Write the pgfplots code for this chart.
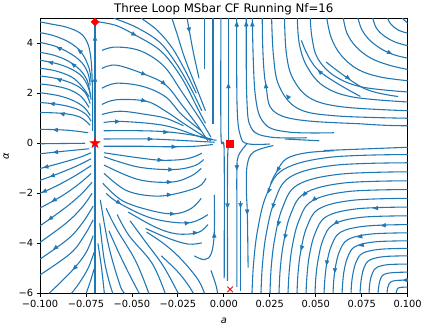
\documentclass[border=0pt]{standalone}
\usepackage{fontspec}
\setmainfont{DejaVu Sans}
\usepackage{pgfplots}
\pgfplotsset{compat=1.18}
\usetikzlibrary{arrows.meta}
\definecolor{c0}{HTML}{1F77B4}
\pgfdeclareplotmark{fstar}{%
 \pgfpathmoveto{\pgfpointpolar{90}{\pgfplotmarksize}}%
 \pgfpathlineto{\pgfpointpolar{126}{0.382\pgfplotmarksize}}%
 \pgfpathlineto{\pgfpointpolar{162}{\pgfplotmarksize}}%
 \pgfpathlineto{\pgfpointpolar{198}{0.382\pgfplotmarksize}}%
 \pgfpathlineto{\pgfpointpolar{234}{\pgfplotmarksize}}%
 \pgfpathlineto{\pgfpointpolar{270}{0.382\pgfplotmarksize}}%
 \pgfpathlineto{\pgfpointpolar{306}{\pgfplotmarksize}}%
 \pgfpathlineto{\pgfpointpolar{342}{0.382\pgfplotmarksize}}%
 \pgfpathlineto{\pgfpointpolar{18}{\pgfplotmarksize}}%
 \pgfpathlineto{\pgfpointpolar{54}{0.382\pgfplotmarksize}}%
 \pgfpathclose\pgfusepathqfillstroke}
\pgfplotsset{
 sl/.style={c0,line width=1.1pt,smooth,tension=0.6,mark=none},
 arw/.style={c0,line width=0.2pt,mark=none,-{Triangle[length=5pt,width=4.4pt]}},
}
\begin{document}
\begin{tikzpicture}
\begin{axis}[
 scale only axis, width=374pt, height=280pt,
 xmin=-0.1,xmax=0.1,ymin=-6,ymax=5,
 xtick={-0.1,-0.075,-0.05,-0.025,0,0.025,0.05,0.075,0.1},
 xticklabels={−0.100,−0.075,−0.050,−0.025,0.000,0.025,0.050,0.075,0.100},
 ytick={-6,-4,-2,0,2,4}, yticklabels={−6,−4,−2,0,2,4},
 scaled x ticks=false,
 tick align=outside, major tick length=3.5pt, xtick pos=left, ytick pos=left,
 tick style={black,line width=0.8pt},
 axis line style={line width=0.8pt},
 tick label style={font=\fontsize{10}{12}\selectfont},
 title={Three Loop MSbar CF Running Nf=16},
 title style={font=\fontsize{12}{14}\selectfont, yshift=-6pt},
 xlabel={\textit{a}}, ylabel={\textit{α}},
 label style={font=\fontsize{10}{12}\selectfont},
 xlabel style={yshift=-4pt}, ylabel style={yshift=3pt},
]
% separatrix
\addplot[sl] coordinates {(-0.0701,-6) (-0.0701,0) (-0.0701,4.85)};
% upper left
\addplot[sl] coordinates {(-0.0714,0.5) (-0.0714,1.7) (-0.0717,2.7) (-0.0725,3.5) (-0.0743,4.03) (-0.0781,4.4) (-0.0856,4.64) (-0.0936,4.76) (-0.1,4.85)};
\addplot[sl] coordinates {(-0.0722,2.45) (-0.0733,3.0) (-0.0775,3.63) (-0.084,4.03) (-0.0925,4.30) (-0.1,4.42)};
\addplot[sl] coordinates {(-0.0727,2.3) (-0.0738,2.77) (-0.077,3.2) (-0.0829,3.56) (-0.0914,3.87) (-0.1,4.03)};
\addplot[sl] coordinates {(-0.0727,1.97) (-0.0743,2.5) (-0.0781,2.92) (-0.0845,3.28) (-0.0925,3.52) (-0.1,3.63)};
\addplot[sl] coordinates {(-0.0722,1.74) (-0.0733,2.14) (-0.0765,2.61) (-0.0818,2.92) (-0.0898,3.16) (-0.1,3.32)};
\addplot[sl] coordinates {(-0.0733,1.86) (-0.0775,2.3) (-0.0829,2.65) (-0.0914,2.89) (-0.1,3.00)};
\addplot[sl] coordinates {(-0.0727,1.59) (-0.0754,2.02) (-0.0807,2.33) (-0.0898,2.57) (-0.1,2.69)};
\addplot[sl] coordinates {(-0.0733,1.43) (-0.0775,1.86) (-0.0840,2.14) (-0.0925,2.30) (-0.1,2.37)};
\addplot[sl] coordinates {(-0.0727,1.11) (-0.0759,1.43) (-0.0818,1.70) (-0.0898,1.90) (-0.1,2.02)};
\addplot[sl] coordinates {(-0.0722,0.88) (-0.0749,1.15) (-0.0807,1.39) (-0.0898,1.55) (-0.1,1.63)};
\addplot[sl] coordinates {(-0.0727,0.72) (-0.0781,1.04) (-0.0872,1.19) (-0.1,1.23)};
\addplot[sl] coordinates {(-0.0738,0.42) (-0.085,0.52) (-0.1,0.56)};
\addplot[sl] coordinates {(-0.0755,0.0) (-0.1,-0.02)};
% lower left
\addplot[sl] coordinates {(-0.0733,-0.22) (-0.0872,-0.32) (-0.1,-0.42)};
\addplot[sl] coordinates {(-0.0722,-0.38) (-0.0791,-0.58) (-0.0898,-0.81) (-0.1,-1.01)};
\addplot[sl] coordinates {(-0.0722,-0.62) (-0.0807,-0.93) (-0.0914,-1.25) (-0.1,-1.48)};
\addplot[sl] coordinates {(-0.0722,-0.89) (-0.0807,-1.29) (-0.0914,-1.72) (-0.1,-2.0)};
\addplot[sl] coordinates {(-0.0722,-1.21) (-0.0791,-1.64) (-0.0882,-2.11) (-0.1,-2.59)};
\addplot[sl] coordinates {(-0.0717,-1.56) (-0.0781,-2.07) (-0.0872,-2.63) (-0.1,-3.30)};
\addplot[sl] coordinates {(-0.0717,-2.0) (-0.077,-2.55) (-0.0856,-3.18) (-0.1,-3.96)};
\addplot[sl] coordinates {(-0.0711,-2.51) (-0.0765,-3.14) (-0.0845,-3.81) (-0.1,-4.63)};
\addplot[sl] coordinates {(-0.0711,-3.06) (-0.0759,-3.69) (-0.0834,-4.40) (-0.1,-5.26)};
\addplot[sl] coordinates {(-0.0711,-3.69) (-0.0749,-4.36) (-0.0818,-5.03) (-0.0925,-5.82) (-0.0952,-6)};
\addplot[sl] coordinates {(-0.0706,-4.36) (-0.0738,-4.99) (-0.0786,-5.58) (-0.0829,-6)};
\addplot[sl] coordinates {(-0.0706,-5.03) (-0.0727,-5.54) (-0.0749,-6)};
% upper middle
\addplot[sl] coordinates {(-0.069,4.86) (-0.0583,4.70) (-0.0476,4.30) (-0.0369,3.84) (-0.03,3.35) (-0.022,2.5) (-0.015,1.5) (-0.01,0.8)};
\addplot[sl] coordinates {(-0.0663,3.71) (-0.06,3.84) (-0.0494,3.78) (-0.0405,3.52) (-0.0316,3.0) (-0.023,2.07) (-0.0123,0.89) (-0.007,0.24)};
\addplot[sl] coordinates {(-0.0663,2.99) (-0.0583,3.12) (-0.0422,2.73) (-0.0316,2.33) (-0.023,1.55) (-0.0141,0.69) (-0.0087,0.1)};
\addplot[sl] coordinates {(-0.0663,2.2) (-0.0583,2.40) (-0.044,2.27) (-0.0316,1.85) (-0.023,1.15) (-0.0123,0.5)};
\addplot[sl] coordinates {(-0.0663,1.55) (-0.0583,1.74) (-0.0422,1.68) (-0.0316,1.28) (-0.0212,0.76) (-0.007,0.1)};
\addplot[sl] coordinates {(-0.0663,1.15) (-0.0565,1.28) (-0.0422,1.15) (-0.0316,1.0) (-0.022,0.7)};
\addplot[sl] coordinates {(-0.0654,0.83) (-0.0547,0.87) (-0.0316,0.7) (-0.0123,0.24) (-0.004,0.12)};
\addplot[sl] coordinates {(-0.0654,0.5) (-0.045,0.5) (-0.03,0.45) (-0.015,0.3) (-0.006,0.15)};
\addplot[sl] coordinates {(-0.0654,0.17) (-0.04,0.17) (-0.02,0.1) (-0.005,0.04)};
\addplot[sl] coordinates {(-0.0654,-0.12) (-0.045,-0.12) (-0.03,-0.14) (-0.016,-0.12) (-0.006,-0.05)};
% top lines
\addplot[sl] coordinates {(-0.06,5.0) (-0.0475,4.63) (-0.035,4.04) (-0.026,3.2) (-0.018,2.2) (-0.012,1.3)};
\addplot[sl] coordinates {(-0.045,5.0) (-0.036,4.5) (-0.028,3.8) (-0.021,2.9) (-0.015,2.0)};
\addplot[sl] coordinates {(-0.0283,5.0) (-0.0257,4.43) (-0.0212,3.39) (-0.0141,2.07) (-0.010,1.3)};
\addplot[sl] coordinates {(-0.02,5.0) (-0.0186,4.43) (-0.0165,3.6) (-0.0135,2.6)};
\addplot[sl] coordinates {(-0.0105,5.0) (-0.0105,3.0)};
\addplot[sl] coordinates {(-0.0059,5.0) (-0.0059,0.77)};
\addplot[sl] coordinates {(-0.0016,5.0) (-0.0016,0.5) (-0.0006,0) (0.0002,-0.5) (0.0002,-5.4)};
\addplot[sl] coordinates {(0.0025,0.1) (0.0025,5.0)};
\addplot[sl] coordinates {(0.0025,-0.1) (0.002,-1.0) (0.002,-5.5)};
% upper right
\addplot[sl] coordinates {(0.025,-0.03) (0.013,-0.02) (0.009,0.3) (0.0072,1.5) (0.007,5.0)};
\addplot[sl] coordinates {(0.045,0.22) (0.025,0.25) (0.015,0.6) (0.0125,1.8) (0.0122,5.0)};
\addplot[sl] coordinates {(0.06,0.42) (0.035,0.45) (0.022,0.8) (0.017,2.0) (0.0155,5.0)};
\addplot[sl] coordinates {(0.1,0.7) (0.0779,0.76) (0.0316,1.09) (0.0227,2.4) (0.0209,5.0)};
\addplot[sl] coordinates {(0.1,1.0) (0.06,1.1) (0.04,1.4) (0.03,2.3) (0.027,3.5) (0.026,5.0)};
\addplot[sl] coordinates {(0.1,1.3) (0.065,1.45) (0.047,1.8) (0.0375,2.6) (0.034,3.6) (0.033,5.0)};
\addplot[sl] coordinates {(0.1,1.65) (0.07,1.85) (0.054,2.3) (0.045,3.1) (0.041,4.0) (0.04,5.0)};
\addplot[sl] coordinates {(0.0743,1.87) (0.0512,2.93) (0.0422,4.11)};
\addplot[sl] coordinates {(0.1,2.05) (0.075,2.25) (0.06,2.7) (0.051,3.4) (0.048,4.2) (0.047,5.0)};
\addplot[sl] coordinates {(0.0556,3.25) (0.0761,2.2) (0.0948,1.87)};
\addplot[sl] coordinates {(0.056,5.0) (0.0585,4.2) (0.064,3.5) (0.073,2.95) (0.085,2.65) (0.1,2.5)};
\addplot[sl] coordinates {(0.065,5.0) (0.067,4.4) (0.072,3.85) (0.08,3.4) (0.09,3.12) (0.1,2.95)};
\addplot[sl] coordinates {(0.073,5.0) (0.075,4.55) (0.079,4.15) (0.085,3.8) (0.092,3.55) (0.1,3.4)};
\addplot[sl] coordinates {(0.081,5.0) (0.083,4.6) (0.087,4.3) (0.093,4.05) (0.1,3.9)};
\addplot[sl] coordinates {(0.089,5.0) (0.091,4.75) (0.095,4.52) (0.1,4.4)};
\addplot[sl] coordinates {(0.097,5.0) (0.1,4.8)};
\addplot[sl] coordinates {(0.0332,0.17) (0.0519,0.1)};
\addplot[sl] coordinates {(0.0546,-0.29) (0.1,-0.16)};
% lower right near-vertical
\addplot[sl] coordinates {(0.0125,-0.03) (0.0079,-0.5) (0.0071,-1.1) (0.0071,-3.0) (0.0071,-5.74)};
\addplot[sl] coordinates {(0.0091,-2.3) (0.0091,-5.9)};
\addplot[sl] coordinates {(0.0269,-0.09) (0.0162,-0.35) (0.0127,-0.88) (0.0123,-1.93) (0.0128,-2.85) (0.0132,-4.97)};
\addplot[sl] coordinates {(0.06,-0.3) (0.045,-0.38) (0.034,-0.62) (0.0287,-1.14) (0.0255,-1.6)};
% lower right family
\addplot[sl] coordinates {(0.1,-0.45) (0.0577,-0.56) (0.0322,-1.06) (0.0229,-2.12) (0.0183,-3.50) (0.0162,-4.78) (0.0153,-6)};
\addplot[sl] coordinates {(0.1,-0.78) (0.0601,-0.88) (0.036,-1.35) (0.0274,-2.35) (0.0230,-3.65) (0.021,-4.85) (0.0202,-6)};
\addplot[sl] coordinates {(0.1,-1.14) (0.0626,-1.24) (0.04,-1.67) (0.0318,-2.60) (0.0277,-3.81) (0.0258,-4.93) (0.0251,-6)};
\addplot[sl] coordinates {(0.1,-1.5) (0.065,-1.59) (0.044,-2.0) (0.0363,-2.85) (0.0325,-3.98) (0.0307,-5.01) (0.03,-6)};
\addplot[sl] coordinates {(0.1,-1.85) (0.0675,-1.93) (0.0479,-2.31) (0.0408,-3.10) (0.0372,-4.13) (0.0356,-5.09) (0.0349,-6)};
\addplot[sl] coordinates {(0.1,-2.2) (0.0699,-2.28) (0.0518,-2.62) (0.0452,-3.34) (0.0419,-4.29) (0.0404,-5.16) (0.0398,-6)};
\addplot[sl] coordinates {(0.1,-2.55) (0.0724,-2.62) (0.0558,-2.93) (0.0497,-3.59) (0.0466,-4.45) (0.0453,-5.24) (0.0447,-6)};
\addplot[sl] coordinates {(0.1,-2.9) (0.0748,-2.96) (0.0597,-3.24) (0.0541,-3.83) (0.0514,-4.61) (0.0501,-5.32) (0.0496,-6)};
\addplot[sl] coordinates {(0.1,-3.25) (0.0773,-3.31) (0.0636,-3.55) (0.0586,-4.08) (0.0561,-4.76) (0.055,-5.40) (0.0545,-6)};
\addplot[sl] coordinates {(0.1,-3.58) (0.0797,-3.63) (0.0675,-3.85) (0.063,-4.31) (0.0608,-4.91) (0.0598,-5.47) (0.0594,-6)};
\addplot[sl] coordinates {(0.1,-3.9) (0.0822,-3.94) (0.0714,-4.13) (0.0675,-4.53) (0.0655,-5.06) (0.0647,-5.54) (0.0643,-6)};
\addplot[sl] coordinates {(0.1,-4.2) (0.0846,-4.24) (0.0754,-4.40) (0.0720,-4.74) (0.0703,-5.19) (0.0695,-5.60) (0.0692,-6)};
\addplot[sl] coordinates {(0.1,-4.5) (0.0871,-4.53) (0.0793,-4.67) (0.0764,-4.95) (0.075,-5.33) (0.0744,-5.67) (0.0741,-6)};
\addplot[sl] coordinates {(0.1,-4.83) (0.0895,-4.85) (0.0832,-4.96) (0.0809,-5.18) (0.0797,-5.47) (0.0792,-5.74) (0.079,-6)};
\addplot[sl] coordinates {(0.1,-5.15) (0.092,-5.17) (0.0871,-5.24) (0.0853,-5.41) (0.0845,-5.62) (0.0841,-5.81) (0.0839,-6)};
\addplot[sl] coordinates {(0.1,-5.47) (0.0944,-5.48) (0.091,-5.53) (0.0898,-5.63) (0.0892,-5.76) (0.0889,-5.88) (0.0888,-6)};
\addplot[sl] coordinates {(0.1,-5.75) (0.0968,-5.755) (0.095,-5.78) (0.0943,-5.83) (0.0937,-6)};
% lower middle
\addplot[sl] coordinates {(-0.0652,-0.38) (-0.0465,-0.58) (-0.0333,-0.68) (-0.02,-0.62) (-0.012,-0.4)};
\addplot[sl] coordinates {(-0.0652,-0.54) (-0.0465,-0.95) (-0.0275,-1.05) (-0.016,-0.9) (-0.011,-0.65)};
\addplot[sl] coordinates {(-0.0652,-0.87) (-0.0465,-1.45) (-0.0283,-1.55) (-0.0176,-1.3) (-0.0123,-1.0)};
\addplot[sl] coordinates {(-0.0652,-1.2) (-0.0535,-1.87) (-0.04,-2.1) (-0.0283,-2.05) (-0.0141,-1.75) (-0.0097,-1.4)};
\addplot[sl] coordinates {(-0.0658,-1.6) (-0.0551,-2.3) (-0.039,-2.7) (-0.0266,-2.82) (-0.0176,-2.6) (-0.0123,-2.2)};
\addplot[sl] coordinates {(-0.064,-2.0) (-0.0568,-2.4) (-0.039,-3.0) (-0.0194,-3.18) (-0.0087,-2.85)};
\addplot[sl] coordinates {(-0.052,-2.75) (-0.0373,-3.35) (-0.0257,-3.62) (-0.0141,-3.57) (-0.0087,-3.25)};
\addplot[sl] coordinates {(-0.0426,-3.4) (-0.0301,-3.8) (-0.0194,-4.03) (-0.012,-3.98)};
\addplot[sl] coordinates {(-0.0161,-4.5) (-0.0105,-4.65) (-0.0068,-4.4) (-0.0052,-3.57) (-0.0052,-2.06)};
\addplot[sl] coordinates {(-0.0685,-4.0) (-0.0665,-5.0) (-0.065,-6)};
\addplot[sl] coordinates {(-0.0675,-3.2) (-0.0652,-4.6) (-0.0625,-5.5) (-0.0604,-6)};
\addplot[sl] coordinates {(-0.0672,-2.26) (-0.0627,-4.09) (-0.0565,-5.67) (-0.0538,-6)};
\addplot[sl] coordinates {(-0.0625,-3.5) (-0.057,-4.4) (-0.051,-5.3) (-0.046,-6)};
\addplot[sl] coordinates {(-0.064,-2.6) (-0.0586,-3.4) (-0.048,-4.7) (-0.0408,-6)};
\addplot[sl] coordinates {(-0.058,-2.85) (-0.0515,-3.7) (-0.039,-4.8) (-0.0319,-6)};
\addplot[sl] coordinates {(-0.051,-3.1) (-0.043,-3.9) (-0.033,-4.9) (-0.0248,-6)};
\addplot[sl] coordinates {(-0.034,-4.5) (-0.0255,-5.1) (-0.02,-5.6) (-0.0165,-6)};
\addplot[sl] coordinates {(-0.042,-3.55) (-0.032,-4.05) (-0.023,-4.65) (-0.0141,-5.44) (-0.0105,-6)};
\addplot[sl] coordinates {(-0.007,-5.08) (-0.0043,-5.67) (-0.0034,-6)};
% arrows (tail, tip) along the flow
\addplot[arw] coordinates {(-0.0701,2.46) (-0.0701,2.66)};
\addplot[arw] coordinates {(-0.0701,4.1) (-0.0701,4.3)};
\addplot[arw] coordinates {(-0.0774,3.624) (-0.0795,3.75)};
\addplot[arw] coordinates {(-0.0886,3.762) (-0.091,3.85)};
\addplot[arw] coordinates {(-0.0809,3.081) (-0.083,3.2)};
\addplot[arw] coordinates {(-0.0930,3.209) (-0.0956,3.25)};
\addplot[arw] coordinates {(-0.0885,2.513) (-0.091,2.58)};
\addplot[arw] coordinates {(-0.0920,1.57) (-0.0947,1.59)};
\addplot[arw] coordinates {(-0.0867,1.157) (-0.0893,1.20)};
\addplot[arw] coordinates {(-0.0904,0.531) (-0.093,0.545)};
\addplot[arw] coordinates {(-0.0902,-0.345) (-0.0929,-0.365)};
\addplot[arw] coordinates {(-0.0956,-0.924) (-0.0982,-0.975)};
\addplot[arw] coordinates {(-0.0922,-1.273) (-0.0947,-1.34)};
\addplot[arw] coordinates {(-0.0966,-1.890) (-0.099,-1.97)};
\addplot[arw] coordinates {(-0.0914,-2.235) (-0.0937,-2.33)};
\addplot[arw] coordinates {(-0.0934,-2.956) (-0.0956,-3.07)};
\addplot[arw] coordinates {(-0.0907,-4.135) (-0.0929,-4.25)};
\addplot[arw] coordinates {(-0.0803,-4.92) (-0.0822,-5.06)};
\addplot[arw] coordinates {(-0.04995,4.394) (-0.0476,4.30)};
\addplot[arw] coordinates {(-0.0447,2.803) (-0.0422,2.73)};
\addplot[arw] coordinates {(-0.0337,2.456) (-0.0316,2.33)};
\addplot[arw] coordinates {(-0.0448,1.725) (-0.0422,1.68)};
\addplot[arw] coordinates {(-0.0592,0.866) (-0.0565,0.87)};
\addplot[arw] coordinates {(-0.0414,0.17) (-0.0387,0.17)};
\addplot[arw] coordinates {(-0.0329,0.449) (-0.0302,0.44)};
\addplot[arw] coordinates {(-0.0284,-0.14) (-0.0257,-0.14)};
\addplot[arw] coordinates {(-0.0191,4.624) (-0.0186,4.43)};
\addplot[arw] coordinates {(0.0025,2.2) (0.0025,2.4)};
\addplot[arw] coordinates {(0.002,-2.4) (0.002,-2.6)};
\addplot[arw] coordinates {(0.007,4.67) (0.007,4.87)};
\addplot[arw] coordinates {(0.0122,4.67) (0.0122,4.87)};
\addplot[arw] coordinates {(0.0155,4.67) (0.0155,4.87)};
\addplot[arw] coordinates {(0.023,2.205) (0.0227,2.4)};
\addplot[arw] coordinates {(0.0356,1.798) (0.0339,1.95)};
\addplot[arw] coordinates {(0.0531,2.795) (0.0512,2.93)};
\addplot[arw] coordinates {(0.0666,2.662) (0.0688,2.55)};
\addplot[arw] coordinates {(0.0891,3.653) (0.0915,3.57)};
\addplot[arw] coordinates {(0.0301,-0.975) (0.0287,-1.14)};
\addplot[arw] coordinates {(0.025,-1.819) (0.0239,-2.0)};
\addplot[arw] coordinates {(0.0271,-2.419) (0.0265,-2.61)};
\addplot[arw] coordinates {(0.03,-3.119) (0.0294,-3.31)};
\addplot[arw] coordinates {(0.0336,-3.639) (0.033,-3.83)};
\addplot[arw] coordinates {(0.0426,-4.099) (0.0419,-4.29)};
\addplot[arw] coordinates {(0.0446,-1.966) (0.0431,-2.13)};
\addplot[arw] coordinates {(0.0500,-2.192) (0.0479,-2.31)};
\addplot[arw] coordinates {(0.0839,-2.59) (0.0812,-2.6)};
\addplot[arw] coordinates {(0.0620,-3.136) (0.0597,-3.24)};
\addplot[arw] coordinates {(0.0881,-3.278) (0.0854,-3.29)};
\addplot[arw] coordinates {(0.0752,-3.713) (0.0726,-3.76)};
\addplot[arw] coordinates {(0.0761,-4.055) (0.0735,-4.10)};
\addplot[arw] coordinates {(0.0562,-4.685) (0.0558,-4.88)};
\addplot[arw] coordinates {(0.0605,-4.993) (0.0603,-5.19)};
\addplot[arw] coordinates {(0.1,-5.47) (0.0973,-5.47)};
\addplot[arw] coordinates {(0.0071,-0.88) (0.0071,-1.08)};
\addplot[arw] coordinates {(0.0091,-2.39) (0.0091,-2.59)};
\addplot[arw] coordinates {(0.0127,-2.65) (0.0128,-2.85)};
\addplot[arw] coordinates {(-0.036,-0.66) (-0.0333,-0.68)};
\addplot[arw] coordinates {(-0.0302,-1.05) (-0.0275,-1.05)};
\addplot[arw] coordinates {(-0.031,-1.55) (-0.0283,-1.55)};
\addplot[arw] coordinates {(-0.031,-2.06) (-0.0283,-2.05)};
\addplot[arw] coordinates {(-0.0293,-2.82) (-0.0266,-2.82)};
\addplot[arw] coordinates {(-0.0583,-2.317) (-0.056,-2.43)};
\addplot[arw] coordinates {(-0.0212,-3.2) (-0.0186,-3.17)};
\addplot[arw] coordinates {(-0.0168,-3.582) (-0.0141,-3.57)};
\addplot[arw] coordinates {(-0.0052,-3.77) (-0.0052,-3.57)};
% fixed points
\addplot[only marks,mark=square*,mark size=2.9pt,mark options={rotate=45,draw=red,fill=red}] coordinates {(-0.0701,4.85)};
\addplot[only marks,mark=fstar,mark size=5.4pt,mark options={draw=red,fill=red}] coordinates {(-0.0701,0)};
\addplot[only marks,mark=square*,mark size=3.6pt,mark options={draw=red,fill=red}] coordinates {(0.0034,0)};
\addplot[only marks,mark=x,mark size=4pt,mark options={draw=red,line width=1pt}] coordinates {(0.0034,-5.84)};
\end{axis}
\end{tikzpicture}
\end{document}
